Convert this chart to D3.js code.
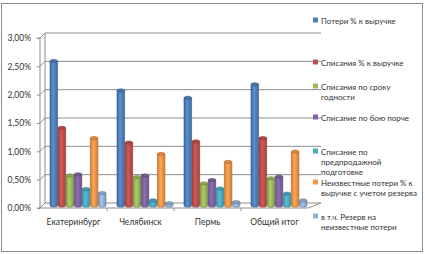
<!DOCTYPE html>
<html>
<head>
<meta charset="utf-8">
<script src="https://cdn.jsdelivr.net/npm/d3@7"></script>
<style>
  body { margin: 0; background: #fff; }
  text { font-family: Lato, "Open Sans", sans-serif; fill: #333; }
</style>
</head>
<body>
<svg id="chart" width="425" height="254"></svg>
<script>
// Chart data.
const categories = ["Екатеринбург", "Челябинск", "Пермь", "Общий итог"];
const seriesNames = [
    "Потери % к выручке",
    "Списания % к выручке",
    "Списания по сроку годности",
    "Списание по бою порче",
    "Списание по предпродажной подготовке",
    "Неизвестные потери % к выручке с учетом резерва",
    "в т.ч. Резерв на неизвестные потери"
];
const legendLines = [
    ["Потери % к выручке"],
    ["Списания % к выручке"],
    ["Списания по сроку", "годности"],
    ["Списание по бою порче"],
    ["Списание по", "предпродажной", "подготовке"],
    ["Неизвестные потери % к", "выручке с учетом резерва"],
    ["в т.ч. Резерв на", "неизвестные потери"]
];
const seriesColors = ["#4F81BD", "#C0504D", "#9BBB59", "#8064A2", "#4BACC6", "#F79646", "#95B3D7"];
// values[series][category], in percent
const values = [
    [2.55, 2.03, 1.90, 2.14],
    [1.37, 1.11, 1.13, 1.19],
    [0.53, 0.50, 0.39, 0.48],
    [0.55, 0.53, 0.45, 0.51],
    [0.29, 0.09, 0.30, 0.21],
    [1.19, 0.91, 0.77, 0.95],
    [0.22, 0.04, 0.06, 0.09]
];
const yTicks = [0, 0.5, 1, 1.5, 2, 2.5, 3];

const svg = d3.select("#chart");

// Outer chart border.
svg.append("rect")
    .attr("x", 1.5).attr("y", 3.5)
    .attr("width", 421).attr("height", 248)
    .attr("fill", "#fff")
    .attr("stroke", "#8c8c8c");

// Plot geometry (front face + depth offset for the 3D walls).
const plotLeft = 40, plotRight = 308, plotBottom = 208, plotTop = 38;
const dx = 5, dy = -5;

const x0 = d3.scaleBand().domain(categories).range([plotLeft, plotRight]);
const x1 = d3.scaleBand()
    .domain(d3.range(seriesNames.length))
    .range([10, 66])
    .paddingInner(0.06);
const y = d3.scaleLinear().domain([0, 3]).range([plotBottom, plotTop]);

const grid = svg.append("g");
// Back wall gridlines with side-wall diagonals.
yTicks.forEach((t) => {
    grid.append("path")
        .attr("d", `M${plotLeft},${y(t)}L${plotLeft + dx},${y(t) + dy}H321`)
        .attr("fill", "none")
        .attr("stroke", "#8c8c8c")
        .attr("stroke-width", 1);
});
// Back wall left edge and floor.
grid.append("line")
    .attr("x1", plotLeft + dx).attr("x2", plotLeft + dx)
    .attr("y1", y(3) + dy).attr("y2", y(0) + dy)
    .attr("stroke", "#8c8c8c");
grid.append("path")
    .attr("d", `M${plotLeft},${plotBottom}H${plotRight}L${plotRight + dx * 2.6},${plotBottom + dy}`)
    .attr("fill", "none")
    .attr("stroke", "#8c8c8c");

// Y axis.
const yAxis = svg.append("g")
    .attr("transform", `translate(${plotLeft},0)`)
    .call(
        d3.axisLeft(y)
            .tickValues(yTicks)
            .tickSize(3)
            .tickFormat((d) => d3.format(".2f")(d).replace(".", ",") + "%")
    );
yAxis.select(".domain").attr("stroke", "#8c8c8c").attr("d", `M-3,${plotTop}H0V${plotBottom}H-3`);
yAxis.selectAll(".tick line").attr("stroke", "#8c8c8c");
yAxis.selectAll(".tick text")
    .attr("x", -9)
    .attr("font-size", 8.5)
    .style("font-family", "Lato, sans-serif")
    .attr("fill", "#333");

// X axis.
const xAxis = svg.append("g")
    .attr("transform", `translate(0,${plotBottom})`)
    .call(d3.axisBottom(x0).tickSize(0).tickPadding(11));
xAxis.select(".domain").remove();
xAxis.selectAll(".tick text")
    .attr("font-size", 8.5)
    .style("font-family", "Lato, sans-serif")
    .attr("fill", "#333");
// Category separator ticks.
categories.slice(1).forEach((c) => {
    svg.append("line")
        .attr("x1", x0(c)).attr("x2", x0(c))
        .attr("y1", plotBottom).attr("y2", plotBottom + 3)
        .attr("stroke", "#8c8c8c");
});

// Cylinder gradients.
const defs = svg.append("defs");
seriesColors.forEach((c, i) => {
    const g = defs.append("linearGradient")
        .attr("id", "grad" + i)
        .attr("x1", "0").attr("x2", "1").attr("y1", "0").attr("y2", "0");
    const base = d3.color(c);
    g.append("stop").attr("offset", "0%").attr("stop-color", base.darker(0.6));
    g.append("stop").attr("offset", "40%").attr("stop-color", base.brighter(0.3));
    g.append("stop").attr("offset", "100%").attr("stop-color", base.darker(0.5));
});

// Bars (cylinders).
const depthY = -2.5;
const bars = svg.append("g");
categories.forEach((cat, ci) => {
    seriesNames.forEach((s, si) => {
        const v = values[si][ci];
        const bx = x0(cat) + x1(si);
        const bw = x1.bandwidth();
        const by = y(v) + depthY;
        const base = y(0) + depthY;
        const ry = 1.6;
        const col = d3.color(seriesColors[si]);
        bars.append("path")
            .attr("d", `M${bx},${by}V${base}A${bw / 2},${ry} 0 0 0 ${bx + bw},${base}V${by}Z`)
            .attr("fill", `url(#grad${si})`)
            .attr("stroke", col.darker(1))
            .attr("stroke-width", 0.6);
        bars.append("ellipse")
            .attr("cx", bx + bw / 2).attr("cy", by)
            .attr("rx", bw / 2).attr("ry", ry)
            .attr("fill", col.darker(0.3))
            .attr("stroke", col.darker(1))
            .attr("stroke-width", 0.6);
    });
});

// Legend.
const legendTops = [21, 63, 87, 118, 152, 183, 217];
const legend = svg.append("g");
legendLines.forEach((lines, i) => {
    const yy = legendTops[i];
    legend.append("rect")
        .attr("x", 313).attr("y", yy - 3.5)
        .attr("width", 5).attr("height", 5)
        .attr("fill", seriesColors[i]);
    lines.forEach((l, li) => {
        legend.append("text")
            .attr("x", 321)
            .attr("y", yy + li * 10.4)
            .attr("dy", "0.33em")
            .attr("font-size", 8)
            .text(l);
    });
});
</script>
</body>
</html>
